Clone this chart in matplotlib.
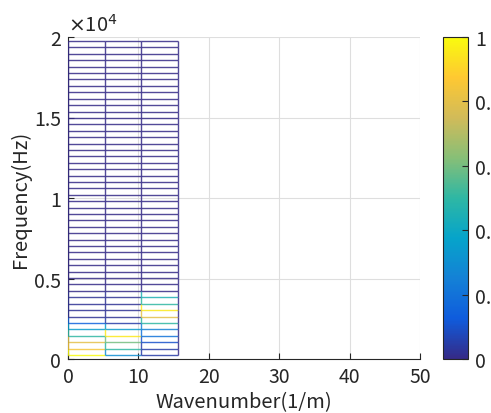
import numpy as np
import matplotlib
matplotlib.use("Agg")
import matplotlib.pyplot as plt
from matplotlib.collections import LineCollection
from matplotlib.colors import LinearSegmentedColormap, Normalize

plt.rcParams['font.family'] = ['Noto Sans CJK JP', 'DejaVu Sans']

# mesh vertices
wavenumber = [0.0, 5.2, 10.4, 15.6]
frequency = np.linspace(250, 19750, 50)

# normalised amplitude at each vertex, one list per wavenumber column (low rows first)
# every row above the tenth reads as 0 in the picture
col0 = [1.00, 0.85, 0.80, 0.50, 0.35, 0.15, 0.02, 0.02, 0.02, 0.02] + [0.0] * 40
col1 = [0.30, 0.50, 0.60, 0.95, 0.35, 0.05, 0.02, 0.02, 0.02, 0.02] + [0.0] * 40
col2 = [0.05, 0.05, 0.10, 0.20, 0.25, 0.50, 0.80, 0.95, 0.50, 0.45] + [0.0] * 40
col3 = [0.0] * 50

parula = LinearSegmentedColormap.from_list(
    'parula', ['#352a87', '#0f5cdd', '#1481d6', '#06a4ca', '#2eb7a4',
               '#87bf77', '#d1bb59', '#fec832', '#f9fb0e'])
norm = Normalize(0, 1)

Z = np.array([col0, col1, col2, col3]).T

fig = plt.figure(figsize=(4.91, 4.14), dpi=100)
ax = fig.add_axes([68 / 491, 54 / 414, 352 / 491, 322 / 414])

segs, vals = [], []
for i, f in enumerate(frequency):
    for j in range(len(wavenumber) - 1):
        segs.append([(wavenumber[j], f), (wavenumber[j + 1], f)])
        vals.append(Z[i, j])
for j, k in enumerate(wavenumber):
    for i in range(len(frequency) - 1):
        segs.append([(k, frequency[i]), (k, frequency[i + 1])])
        vals.append(Z[i, j])
lc = LineCollection(segs, colors=parula(norm(np.array(vals))), linewidths=1.0, alpha=0.85, zorder=3)
ax.add_collection(lc)

ax.set_xlim(0, 50)
ax.set_ylim(0, 20000)
ax.set_xticks([0, 10, 20, 30, 40, 50])
ax.set_yticks([0, 5000, 10000, 15000, 20000])
ax.set_yticklabels(['0', '0.5', '1', '1.5', '2'])
ax.grid(True, color='#dedede', linewidth=0.8, zorder=0)
ax.set_axisbelow(True)
for s in ['top', 'right']:
    ax.spines[s].set_visible(False)
for s in ['left', 'bottom']:
    ax.spines[s].set_color('#262626')
ax.tick_params(direction='in', length=4, labelsize=14, colors='#262626', pad=5)
ax.set_xlabel('Wavenumber(1/m)', fontsize=14.5, color='#262626', labelpad=3)
ax.set_ylabel('Frequency(Hz)', fontsize=14.5, color='#262626', labelpad=2)
ax.text(0.0, 1.005, r'$\times$10$^{4}$', transform=ax.transAxes, fontsize=14.5,
        color='#262626', ha='left', va='bottom')

cax = fig.add_axes([443 / 491, 54 / 414, 25 / 491, 322 / 414])
sm = matplotlib.cm.ScalarMappable(norm=norm, cmap=parula)
cb = fig.colorbar(sm, cax=cax, ticks=[0, 0.2, 0.4, 0.6, 0.8, 1])
cb.ax.set_yticklabels(['0', '0.2', '0.4', '0.6', '0.8', '1'])
cb.ax.tick_params(direction='in', length=4, labelsize=14, colors='#262626', pad=5)
cb.outline.set_edgecolor('#262626')

fig.savefig('out.png', dpi=100)
